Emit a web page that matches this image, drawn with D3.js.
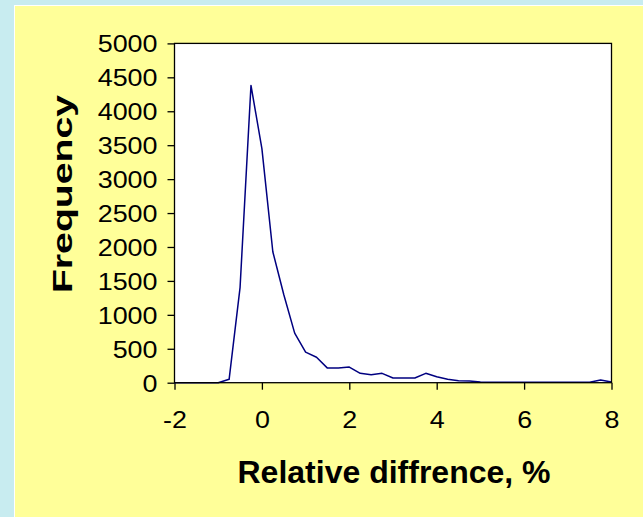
<!DOCTYPE html>
<html><head><meta charset="utf-8">
<script src="https://cdn.jsdelivr.net/npm/d3@7"></script>
<style>html,body{margin:0;padding:0;background:#c8ecf0;}svg{display:block;}</style>
</head><body><svg id="c" width="643" height="517"></svg>
<script>
const xValues = [-2,-1.75,-1.5,-1.25,-1,-0.75,-0.5,-0.25,0,0.25,0.5,0.75,1,1.25,1.5,1.75,2,2.25,2.5,2.75,3,3.25,3.5,3.75,4,4.25,4.5,4.75,5,5.25,5.5,5.75,6,6.25,6.5,6.75,7,7.25,7.5,7.75,8];
const frequency = [0,0,0,0,0,50,1400,4380,3450,1930,1300,730,450,375,215,215,230,138,118,138,70,70,70,138,88,50,30,25,10,8,8,8,8,8,8,8,8,8,8,40,10];
const xTicks = [-2,0,2,4,6,8];
const yTicks = [0,500,1000,1500,2000,2500,3000,3500,4000,4500,5000];
const xTitle = "Relative diffrence, %";
const yTitle = "Frequency";

const svg = d3.select("#c");
svg.append("rect").attr("x",14).attr("y",5).attr("width",629).attr("height",512).attr("fill","#ffffff");
svg.append("rect").attr("x",15).attr("y",6).attr("width",628).attr("height",511).attr("fill","#ffff99");

const L=174.5,R=611.5,T=43.4,B=382.7;
const x=d3.scaleLinear().domain([-2,8]).range([L,R]);
const y=d3.scaleLinear().domain([0,5000]).range([B,T]);

svg.append("rect").attr("x",L).attr("y",T).attr("width",R-L).attr("height",B-T).attr("fill","#fff");

const font="'Liberation Sans', Arial, sans-serif";
const fmt = d => String(d);
const SX = 1.12;
const gx=svg.append("g").attr("transform",`translate(0,${B})`)
  .call(d3.axisBottom(x).tickValues(xTicks).tickSize(7).tickPadding(10).tickFormat(fmt));
const gy=svg.append("g").attr("transform",`translate(${L},0)`)
  .call(d3.axisLeft(y).tickValues(yTicks).tickSize(7).tickPadding(9).tickFormat(fmt));
[gx,gy].forEach(g=>{
  g.select(".domain").remove();
  g.selectAll("line").attr("stroke","#000").attr("stroke-width",1.3);
  g.selectAll("text").attr("font-family",font).attr("font-size",24).attr("fill","#000")
    .attr("transform",`scale(${SX},1)`);
});
gy.selectAll("text").attr("x",-17/SX).attr("dy","0.35em");
gx.selectAll("text").attr("y",45).attr("dy",0);

const line=d3.line().x((d,i)=>x(xValues[i])).y(d=>y(d));
svg.append("path").datum(frequency).attr("d",line).attr("fill","none")
  .attr("stroke","#000080").attr("stroke-width",1.5).attr("stroke-linejoin","round");

svg.append("rect").attr("x",L).attr("y",T).attr("width",R-L).attr("height",B-T)
  .attr("fill","none").attr("stroke","#000").attr("stroke-width",1.3);

svg.append("text").attr("x",394).attr("y",483).attr("text-anchor","middle")
  .attr("font-family",font).attr("font-weight","bold").attr("font-size",32).text(xTitle);
svg.append("text").attr("transform",`translate(72,194) rotate(-90) scale(1.4,1)`).attr("text-anchor","middle")
  .attr("font-family",font).attr("font-weight","bold").attr("font-size",28).text(yTitle);
</script></body></html>
